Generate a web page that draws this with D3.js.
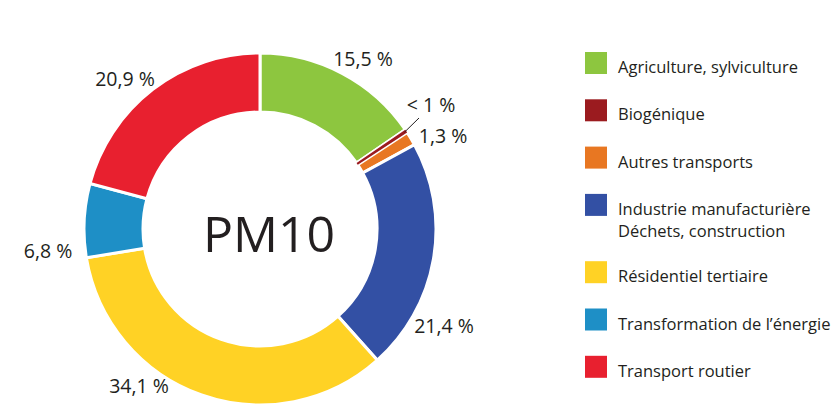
<!DOCTYPE html>
<html>
<head>
<meta charset="utf-8">
<script src="https://cdn.jsdelivr.net/npm/d3@7"></script>
<style>
  body { margin: 0; background: #fff; }
  text { font-family: "Open Sans", sans-serif; fill: #231f20; }
</style>
</head>
<body>
<svg width="839" height="410"></svg>
<script>
var categories = ["Agriculture, sylviculture", "Biogénique", "Autres transports",
    "Industrie manufacturière\nDéchets, construction", "Résidentiel tertiaire",
    "Transformation de l’énergie", "Transport routier"];
var values = [15.5, 0.3, 1.3, 21.4, 34.1, 6.8, 20.9];
var valueLabels = ["15,5 %", "< 1 %", "1,3 %", "21,4 %", "34,1 %", "6,8 %", "20,9 %"];
var colors = ["#8dc63f", "#9b1b1f", "#e87722", "#3350a4", "#ffd225", "#1e8fc6", "#e8202f"];

// hand placed label spots, relative to the centre
var labelSpots = [[103, -170], [171, -124], [183, -93], [184, 97], [-121, 157], [-212, 22], [-135, -150]];

var svg = d3.select("svg"),
    cx = 260,
    cy = 229,
    outerR = 176,
    innerR = 117;

var g = svg.append("g")
    .attr("transform", "translate(" + cx + "," + cy + ")");

var pie = d3.pie().sort(null).value(function (d) { return d; });
var arcs = pie(values);

var arc = d3.arc()
    .innerRadius(innerR)
    .outerRadius(outerR);

g.selectAll("path.slice")
    .data(arcs)
    .enter().append("path")
    .attr("class", "slice")
    .attr("d", arc)
    .attr("fill", function (d, i) { return colors[i]; })
    .attr("stroke", "#fff")
    .attr("stroke-width", 3)
    .attr("stroke-linejoin", "miter");

// the tiny biogenic slice goes on top so the strokes don't hide it
g.append("path")
    .attr("d", arc(arcs[1]))
    .attr("fill", colors[1]);

// leader for "< 1 %"
var bioMid = (arcs[1].startAngle + arcs[1].endAngle) / 2;
var lead = d3.arc().innerRadius(outerR - 2).outerRadius(outerR - 2).centroid({startAngle: bioMid, endAngle: bioMid});
g.append("line")
    .attr("x1", lead[0]).attr("y1", lead[1])
    .attr("x2", 159).attr("y2", -111)
    .attr("stroke", "#231f20")
    .attr("stroke-width", 1);

g.selectAll("text.val")
    .data(valueLabels)
    .enter().append("text")
    .attr("class", "val")
    .attr("x", function (d, i) { return labelSpots[i][0]; })
    .attr("y", function (d, i) { return labelSpots[i][1]; })
    .attr("dy", "0.35em")
    .attr("text-anchor", "middle")
    .style("font-size", "19.5px")
    .text(function (d) { return d; });

g.append("text")
    .attr("x", 9)
    .attr("y", 5)
    .attr("dy", "0.35em")
    .attr("text-anchor", "middle")
    .style("font-size", "50px")
    .text("PM10");

// legend, the two-line entry pushes the rest down
var rowH = 47.3;
var leg = svg.append("g")
    .selectAll("g")
    .data(categories)
    .enter().append("g")
    .attr("transform", function (d, i) {
        var y = 52 + i * rowH + (i > 3 ? 20 : 0);
        return "translate(585," + y + ")";
    });

leg.append("rect")
    .attr("width", 22)
    .attr("height", 22)
    .attr("fill", function (d, i) { return colors[i]; });

leg.append("text")
    .attr("x", 33)
    .attr("y", 21)
    .style("font-size", "16.5px")
    .selectAll("tspan")
    .data(function (d) { return d.split("\n"); })
    .enter().append("tspan")
    .attr("x", 33)
    .attr("dy", function (d, j) { return j ? 22 : 0; })
    .text(function (d) { return d; });
</script>
</body>
</html>
